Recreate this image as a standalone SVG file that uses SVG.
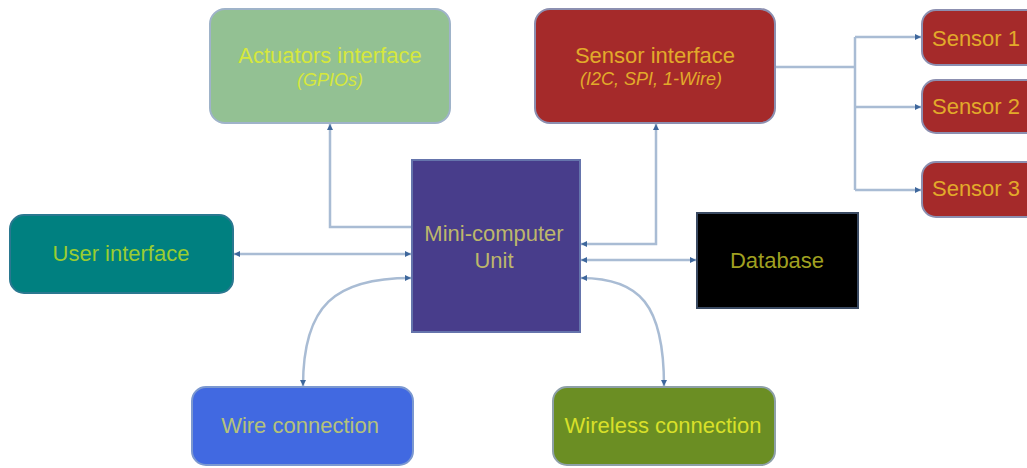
<svg xmlns="http://www.w3.org/2000/svg" width="1027" height="468" viewBox="0 0 1027 468">
<style>
text{font-family:"Liberation Sans",Arial,sans-serif;font-size:22px;text-anchor:middle;dominant-baseline:central}
.sub{font-size:18px;font-style:italic}
.box{stroke-width:2}
.con{fill:none;stroke:#a9bcd4;stroke-width:2.5}
</style>
<defs>
<marker id="ah" viewBox="0 0 6 6" refX="6" refY="3" markerWidth="6" markerHeight="6" markerUnits="userSpaceOnUse" orient="auto-start-reverse">
<path d="M0,0 L6,3 L0,6 z" fill="#3e679c"/>
</marker>
</defs>
<rect width="1027" height="468" fill="#ffffff"/>
<g id="connectors">
<path class="con" d="M412,227 H330 V124" marker-end="url(#ah)"/>
<path class="con" d="M581,244 H656 V124" marker-start="url(#ah)" marker-end="url(#ah)"/>
<path class="con" d="M234,254 H411" marker-start="url(#ah)" marker-end="url(#ah)"/>
<path class="con" d="M581,260 H696" marker-start="url(#ah)" marker-end="url(#ah)"/>
<path class="con" d="M411,278 C335,278 303,305 303,386" marker-start="url(#ah)" marker-end="url(#ah)"/>
<path class="con" d="M581,278 C640,278 664,305 664,386" marker-start="url(#ah)" marker-end="url(#ah)"/>
<path class="con" d="M776,67 H855"/>
<path class="con" d="M855,37 V190"/>
<path class="con" d="M855,37 H921" marker-end="url(#ah)"/>
<path class="con" d="M855,107 H921" marker-end="url(#ah)"/>
<path class="con" d="M855,190 H921" marker-end="url(#ah)"/>
</g>
<g id="actuators">
<rect class="box" x="210" y="9" width="240" height="114" rx="15" fill="#93c193" stroke="#9fb3c9"/>
<text x="330" y="55" fill="#d6e83c">Actuators interface</text>
<text class="sub" x="330" y="80" fill="#d6e83c">(GPIOs)</text>
</g>
<g id="sensor-interface">
<rect class="box" x="535" y="9" width="240" height="114" rx="15" fill="#a52a2a" stroke="#8c8fb0"/>
<text x="655" y="55" fill="#e2aa2a">Sensor interface</text>
<text class="sub" x="651" y="79" fill="#e2aa2a">(I2C, SPI, 1-Wire)</text>
</g>
<g id="sensor1">
<rect class="box" x="922" y="10" width="120" height="55" rx="14" fill="#a52a2a" stroke="#8c8fb0"/>
<text x="976" y="38" fill="#e2aa2a">Sensor 1</text>
</g>
<g id="sensor2">
<rect class="box" x="922" y="80" width="120" height="53" rx="14" fill="#a52a2a" stroke="#8c8fb0"/>
<text x="976" y="106" fill="#e2aa2a">Sensor 2</text>
</g>
<g id="sensor3">
<rect class="box" x="922" y="162" width="120" height="55" rx="14" fill="#a52a2a" stroke="#8c8fb0"/>
<text x="976" y="188" fill="#e2aa2a">Sensor 3</text>
</g>
<g id="user-interface">
<rect class="box" x="10" y="215" width="223" height="78" rx="14" fill="#008080" stroke="#2a7890"/>
<text x="121" y="253" fill="#9acd32">User interface</text>
</g>
<g id="mini-computer">
<rect class="box" x="412" y="160" width="168" height="172" fill="#483d8b" stroke="#6574ac"/>
<text x="494" y="233" fill="#bdb76b">Mini-computer</text>
<text x="494" y="260" fill="#bdb76b">Unit</text>
</g>
<g id="database">
<rect class="box" x="697" y="213" width="161" height="95" fill="#000000" stroke="#3a4a62"/>
<text x="777" y="260" fill="#a0a020">Database</text>
</g>
<g id="wire">
<rect class="box" x="192" y="387" width="221" height="78" rx="14" fill="#4169e1" stroke="#7b98d0"/>
<text x="300" y="425" fill="#b5c27a">Wire connection</text>
</g>
<g id="wireless">
<rect class="box" x="553" y="387" width="222" height="78" rx="14" fill="#6b8e23" stroke="#8ea0a8"/>
<text x="663" y="425" fill="#d8e02a">Wireless connection</text>
</g>
</svg>
